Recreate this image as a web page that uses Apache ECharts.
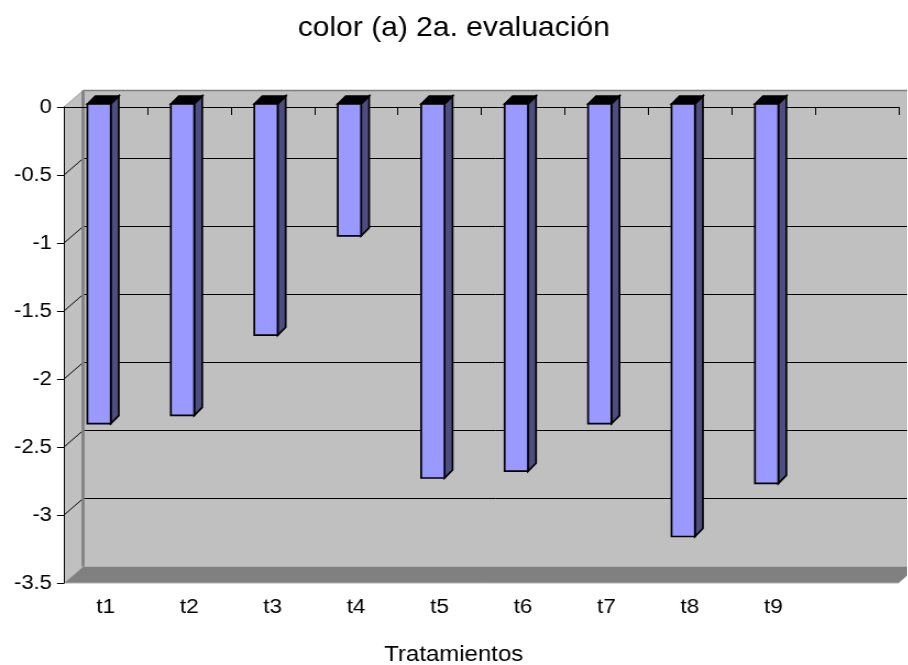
<!DOCTYPE html>
<html>
<head>
<meta charset="utf-8">
<script src="https://cdn.jsdelivr.net/npm/echarts@6/dist/echarts.min.js"></script>
<style>
  html, body { margin: 0; padding: 0; background: #fff; overflow: hidden; }
  /* the chart is laid out a little narrower and widened horizontally, like a stretched spreadsheet chart */
  #chart { width: 825px; height: 665px; transform: scaleX(1.1); transform-origin: 0 0; }
</style>
</head>
<body>
<div id="chart"></div>
<script>
const categories = ['t1', 't2', 't3', 't4', 't5', 't6', 't7', 't8', 't9', ''];
const values = [-2.35, -2.29, -1.70, -0.97, -2.75, -2.70, -2.35, -3.18, -2.79];
const yTicks = [0, -0.5, -1, -1.5, -2, -2.5, -3, -3.5];

const FONT = 'Liberation Sans, Arial, sans-serif';
// oblique depth of the 3-D box (pixels)
const DEPTH_X = 17.3, DEPTH_Y = -16.5;
// depth of a single column
const COL_DX = 7.3, COL_DY = -8, COL_FRONT = -3;

const yMin = Math.min(...yTicks), yMax = Math.max(...yTicks);
const yStep = yTicks[0] - yTicks[1];

const chart = echarts.init(document.getElementById('chart'), null, { renderer: 'canvas' });

function renderWalls(params, api) {
  const cs = params.coordSys;
  const L = cs.x, R = cs.x + cs.width;
  const yTop = api.coord([0, yMax])[1];
  const yBot = api.coord([0, yMin])[1];
  const bx = DEPTH_X, by = DEPTH_Y;
  const children = [];
  // back wall
  children.push({ type: 'polygon', shape: { points: [[L + bx, yTop + by], [R + bx, yTop + by], [R + bx, yBot + by], [L + bx, yBot + by]] },
    style: { fill: '#c0c0c0' } });
  // side wall
  children.push({ type: 'polygon', shape: { points: [[L, yTop], [L + bx, yTop + by], [L + bx, yBot + by], [L, yBot]] },
    style: { fill: '#c0c0c0' } });
  // floor
  children.push({ type: 'polygon', shape: { points: [[L, yBot], [L + bx, yBot + by], [R + bx, yBot + by], [R, yBot]] },
    style: { fill: '#808080', stroke: '#b0b0b0', lineWidth: 1 } });
  // gridlines on the back wall and the side wall
  yTicks.forEach(v => {
    if (v === yMax || v === yMin) return;
    const y = api.coord([0, v])[1];
    children.push({ type: 'line', shape: { x1: L + bx, y1: y + by, x2: R + bx, y2: y + by }, style: { stroke: '#000', lineWidth: 1 } });
    children.push({ type: 'line', shape: { x1: L, y1: y, x2: L + bx, y2: y + by }, style: { stroke: '#000', lineWidth: 1 } });
  });
  // wall edges
  children.push({ type: 'line', shape: { x1: L + bx, y1: yTop + by, x2: R + bx + 20, y2: yTop + by }, style: { stroke: '#808080', lineWidth: 1.5 } });
  children.push({ type: 'line', shape: { x1: L, y1: yTop, x2: L + bx, y2: yTop + by }, style: { stroke: '#a0a0a0', lineWidth: 1 } });
  children.push({ type: 'line', shape: { x1: L + bx, y1: yTop + by, x2: L + bx, y2: yBot + by }, style: { stroke: '#808080', lineWidth: 2.7 } });
  return { type: 'group', children };
}

function renderColumn(params, api) {
  const i = api.value(0), v = api.value(1);
  const cx = api.coord([i, v])[0];
  const yEnd = api.coord([i, v])[1] + COL_FRONT;
  const yZero = api.coord([i, 0])[1] + COL_FRONT;
  const catW = api.size([1, 0])[0];
  const left = cx - 0.22 * catW;
  const right = left + 0.28 * catW;
  const top = Math.min(yZero, yEnd), bot = Math.max(yZero, yEnd);
  const edge = { stroke: '#000', lineWidth: 1.7, lineJoin: 'miter' };
  return {
    type: 'group',
    children: [
      { type: 'polygon', shape: { points: [[right, top], [right + COL_DX, top + COL_DY], [right + COL_DX, bot + COL_DY], [right, bot]] },
        style: Object.assign({ fill: '#4d4d80' }, edge) },
      { type: 'polygon', shape: { points: [[left, top], [left + COL_DX, top + COL_DY], [right + COL_DX, top + COL_DY], [right, top]] },
        style: Object.assign({ fill: '#000' }, edge) },
      { type: 'polygon', shape: { points: [[left, top], [right, top], [right, bot], [left, bot]] },
        style: Object.assign({ fill: '#9999ff' }, edge) }
    ]
  };
}

chart.setOption({
  animation: false,
  backgroundColor: '#fff',
  title: [
    { text: 'color (a) 2a. evaluación', left: 'center', top: 10,
      textStyle: { fontFamily: FONT, fontSize: 27.3, fontWeight: 'normal', color: '#000' } },
    { text: 'Tratamientos', left: 'center', top: 639,
      textStyle: { fontFamily: FONT, fontSize: 21.8, fontWeight: 'normal', color: '#000' } }
  ],
  grid: { left: 58.2, right: 8.2, top: 107, bottom: 82, containLabel: false },
  xAxis: [
    { type: 'category', data: categories, position: 'bottom', boundaryGap: true, z: 3,
      axisLine: { show: true, lineStyle: { color: '#000', width: 1 } },
      axisTick: { show: true, interval: 0, length: 8, lineStyle: { color: '#000' } },
      axisLabel: { interval: 0, margin: 14, fontFamily: FONT, fontSize: 20.5, color: '#000' },
      splitLine: { show: false } },
    { type: 'category', data: categories, position: 'top', boundaryGap: true, z: 3,
      axisLine: { show: true, onZero: false, lineStyle: { color: '#000', width: 1 } },
      axisTick: { show: true, inside: true, interval: 0, length: 5, lineStyle: { color: '#000' } },
      axisLabel: { show: false }, splitLine: { show: false } }
  ],
  yAxis: {
    type: 'value', min: yMin, max: yMax, interval: yStep, z: 3,
    axisLine: { show: true, lineStyle: { color: '#000', width: 1 } },
    axisTick: { show: true, length: 6.4, lineStyle: { color: '#000' } },
    axisLabel: { margin: 11, fontFamily: FONT, fontSize: 20, color: '#000' },
    splitLine: { show: false }
  },
  series: [
    { type: 'custom', name: 'walls', z: 1, silent: true, renderItem: renderWalls, data: [[0, 0]], clip: false },
    { type: 'custom', name: 'color', z: 5, renderItem: renderColumn, clip: false,
      data: values.map((v, i) => [i, v]) }
  ]
});
</script>
</body>
</html>
